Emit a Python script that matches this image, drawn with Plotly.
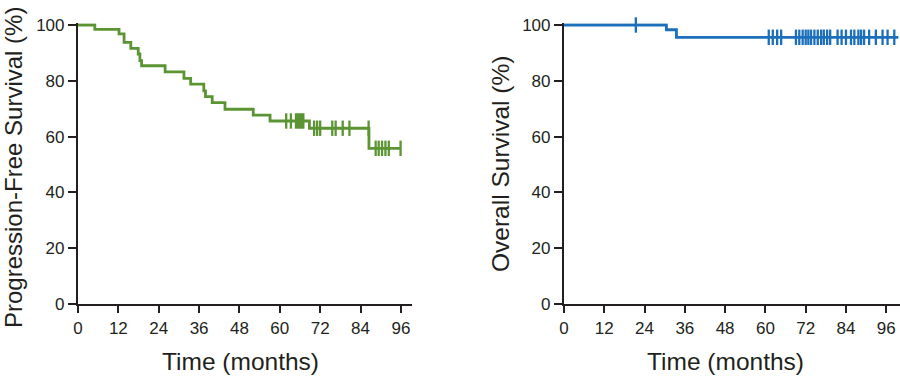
import plotly.graph_objects as go

# ---------------- data ----------------
pfs_event_times = [0, 5.0, 12.2, 13.7, 15.7, 17.9, 18.4, 18.9, 25.9, 31.5, 33.5, 37.4,
                   37.9, 39.9, 43.7, 52.1, 57.1, 68.8, 86.5]
pfs_surv = [100, 98.4, 96.8, 93.8, 91.6, 89.6, 87.2, 85.4, 83.2, 80.9, 78.8, 76.4,
            74.3, 72.2, 69.8, 67.7, 65.6, 63.0, 55.8]
pfs_end_time = 95.9
pfs_censor_times = [61.9, 63.3, 64.8, 65.4, 66.0, 66.6, 67.0, 70.2, 71.1, 72.0,
                    75.6, 76.6, 78.7, 80.7, 86.4, 88.5, 89.4, 90.4, 91.4, 92.4, 95.9]

os_event_times = [0, 30.5, 33.5]
os_surv = [100, 98.3, 95.6]
os_end_time = 99.6
os_censor_times = [21.4, 61.0, 62.2, 63.5, 64.7, 69.1, 70.1, 71.1, 72.0, 72.8, 73.6,
                   74.6, 75.6, 76.6, 77.4, 78.4, 79.3, 81.5, 82.7, 84.0, 85.5, 86.5,
                   87.7, 88.5, 89.4, 90.9, 92.9, 94.9, 96.4, 98.4]

x_ticks = [0, 12, 24, 36, 48, 60, 72, 84, 96]
y_ticks = [0, 20, 40, 60, 80, 100]

GREEN = "#5b9432"
BLUE = "#1c6fba"
AXIS = "#231f20"
FONT = "Liberation Sans, Arial, sans-serif"


def surv_at(t, times, surv):
    v = surv[0]
    for ti, si in zip(times, surv):
        if ti <= t:
            v = si
    return v


def step_xy(times, surv, end):
    return list(times) + [end], list(surv) + [surv[-1]]


fig = go.Figure()

px, py = step_xy(pfs_event_times, pfs_surv, pfs_end_time)
fig.add_trace(go.Scatter(x=px, y=py, mode="lines", line=dict(color=GREEN, width=2.8, shape="hv"),
                         xaxis="x", yaxis="y", cliponaxis=False, showlegend=False))
fig.add_trace(go.Scatter(x=pfs_censor_times,
                         y=[surv_at(t, pfs_event_times, pfs_surv) for t in pfs_censor_times],
                         mode="markers", xaxis="x", yaxis="y", cliponaxis=False, showlegend=False,
                         marker=dict(symbol="line-ns", size=11, line=dict(color=GREEN, width=2.3))))

ox, oy = step_xy(os_event_times, os_surv, os_end_time)
fig.add_trace(go.Scatter(x=ox, y=oy, mode="lines", line=dict(color=BLUE, width=2.8, shape="hv"),
                         xaxis="x2", yaxis="y2", cliponaxis=False, showlegend=False))
fig.add_trace(go.Scatter(x=os_censor_times,
                         y=[surv_at(t, os_event_times, os_surv) for t in os_censor_times],
                         mode="markers", xaxis="x2", yaxis="y2", cliponaxis=False, showlegend=False,
                         marker=dict(symbol="line-ns", size=11, line=dict(color=BLUE, width=2.3))))

W, H = 900, 376
Y_TOP_VAL = 100.6
px_per_unit = (304 - 25) / 100.0
y_top_px = 304 - Y_TOP_VAL * px_per_unit
y_dom = [(H - 304) / H, (H - y_top_px) / H]

common_x = dict(tickvals=x_ticks, ticktext=[str(v) for v in x_ticks], showline=True,
                linecolor=AXIS, linewidth=2.2, ticks="outside", ticklen=7, tickwidth=2.2,
                tickcolor=AXIS, showgrid=False, zeroline=False, automargin=False,
                tickfont=dict(family=FONT, size=17, color=AXIS))
common_y = dict(tickvals=y_ticks, ticktext=[str(v) for v in y_ticks], range=[0, Y_TOP_VAL],
                showline=True, linecolor=AXIS, linewidth=2.2, ticks="outside", ticklen=8,
                tickwidth=2.2, tickcolor=AXIS, showgrid=False, zeroline=False, domain=y_dom,
                automargin=False, tickfont=dict(family=FONT, size=17, color=AXIS))

fig.update_layout(
    width=W, height=H, margin=dict(l=0, r=0, t=0, b=0, pad=0, autoexpand=False),
    paper_bgcolor="white", plot_bgcolor="white",
    xaxis=dict(common_x, domain=[78 / W, 412 / W], range=[0, 99.3], anchor="y"),
    yaxis=dict(common_y, anchor="x"),
    xaxis2=dict(common_x, domain=[564 / W, 1.0], range=[0, 100.1], anchor="y2"),
    yaxis2=dict(common_y, anchor="x2"),
)

title_font = dict(family=FONT, size=24.5, color=AXIS)
fig.add_annotation(x=(78 + 402) / 2 / W, y=(H - 361) / H, xref="paper", yref="paper",
                   text="Time (months)", showarrow=False, font=title_font,
                   xanchor="center", yanchor="middle")
fig.add_annotation(x=(564 + 887) / 2 / W, y=(H - 361) / H, xref="paper", yref="paper",
                   text="Time (months)", showarrow=False, font=title_font,
                   xanchor="center", yanchor="middle")
fig.add_annotation(x=13 / W, y=(H - 168) / H, xref="paper", yref="paper",
                   text="Progression-Free Survival (%)", showarrow=False,
                   font=dict(family=FONT, size=24, color=AXIS),
                   textangle=-90, xanchor="center", yanchor="middle")
fig.add_annotation(x=500 / W, y=(H - 164) / H, xref="paper", yref="paper",
                   text="Overall Survival (%)", showarrow=False, font=title_font,
                   textangle=-90, xanchor="center", yanchor="middle")

fig.write_html("out.html", config={"displayModeBar": False},
               post_script="document.body.style.margin='0';document.body.style.padding='0';"
                           "document.body.style.overflow='hidden';")
